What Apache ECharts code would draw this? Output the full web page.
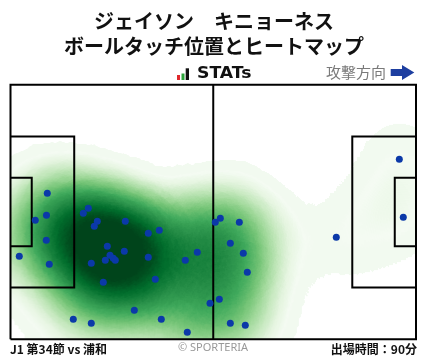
<!DOCTYPE html>
<html><head><meta charset="utf-8">
<script src="https://cdn.jsdelivr.net/npm/echarts@6/dist/echarts.min.js"></script>
<style>html,body{margin:0;padding:0;background:#fff}#c{width:428px;height:359px}</style>
</head><body><div id="c"></div>
<script>
// Touch positions in metres on a 105 x 68 pitch (x from own goal line, y from bottom touchline)
const touchX = [9.53, 6.42, 9.32, 9.27, 2.28, 10.05, 18.85, 20.15, 22.48, 21.70,
  29.73, 35.68, 38.53, 25.07, 25.76, 26.62, 27.14, 24.55, 29.47, 20.92,
  35.68, 24.03, 37.49, 45.26, 48.37, 16.26, 20.92, 32.06, 39.05, 45.78,
  51.66, 54.07, 53.03, 54.33, 59.25, 56.92, 60.28, 61.32, 84.36, 100.68,
  101.71, 56.92, 60.80];
const touchY = [39.0, 31.78, 33.12, 26.43, 22.16, 20.02, 33.65, 34.99, 31.51, 30.18,
  31.51, 28.31, 29.11, 24.83, 22.43, 21.62, 21.09, 21.09, 23.5, 20.29,
  21.89, 15.21, 16.01, 21.09, 23.23, 5.32, 4.25, 7.72, 5.32, 1.84,
  9.59, 10.66, 31.25, 32.32, 31.25, 25.63, 22.96, 17.88, 27.24, 48.09,
  32.58, 4.25, 3.71];

const titleLines = ['ジェイソン　キニョーネス', 'ボールタッチ位置とヒートマップ'];
const footerLeft = 'J1 第34節 vs 浦和';
const footerRight = '出場時間：90分';
const credit = '© SPORTERIA';
const directionLabel = '攻撃方向';

const PL = 105, PW = 68;
const pitchLines = [
  [[0,0],[PL,0],[PL,PW],[0,PW],[0,0]],
  [[PL/2,0],[PL/2,PW]],
  [[0,13.84],[16.5,13.84],[16.5,54.16],[0,54.16]],
  [[0,24.84],[5.5,24.84],[5.5,43.16],[0,43.16]],
  [[PL,13.84],[PL-16.5,13.84],[PL-16.5,54.16],[PL,54.16]],
  [[PL,24.84],[PL-5.5,24.84],[PL-5.5,43.16],[PL,43.16]]
];

echarts.registerMap('pitch', {
  type: 'FeatureCollection',
  features: [{
    type: 'Feature', properties: { name: 'pitch' },
    geometry: { type: 'Polygon', coordinates: [[[0,0],[PL,0],[PL,PW],[0,PW],[0,0]]] }
  }]
});

const points = touchX.map((x, i) => [x, touchY[i]]);
// colour ramp (matplotlib "Greens"), stretched over the density range
const greens = ['#f7fcf5','#e5f5e0','#c7e9c0','#a1d99b','#74c476','#41ab5d','#238b45','#006d2c','#00441b'];
const ramp = [];
for (let i = 0; i < 64; i++) {
  const t = i / 63;
  if (t < 0.12) ramp.push('#f2faf0');
  else ramp.push(echarts.color.lerp(Math.min(1, (t - 0.12) / 0.56), greens));
}

const chart = echarts.init(document.getElementById('c'), null, { renderer: 'canvas' });
const jp = "'Noto Sans CJK JP', sans-serif";
const boxW = 405.5, boxH = 254.4;
const vmax = 3;
chart.setOption({
  backgroundColor: '#fff',
  animation: false,
  geo: {
    map: 'pitch', roam: false, silent: true,
    left: 10.5, top: 84.8, width: boxW, height: boxH,
    aspectScale: (boxW / boxH) / (PL / PW),
    itemStyle: { areaColor: '#fff', borderWidth: 0 },
    label: { show: false },
    emphasis: { disabled: true },
    select: { disabled: true }
  },
  visualMap: {
    type: 'continuous', show: false, seriesIndex: 0,
    min: 0, max: vmax, range: [0.2, vmax],
    inRange: { color: ramp },
    outOfRange: { color: ['rgba(255,255,255,0)'] }
  },
  series: [
    {
      type: 'heatmap', coordinateSystem: 'geo', geoIndex: 0,
      data: points.map(p => [p[0], p[1], 1]),
      pointSize: 30, blurSize: 68, minOpacity: 1, maxOpacity: 1, silent: true
    },
    {
      type: 'lines', coordinateSystem: 'geo', geoIndex: 0, polyline: true, silent: true, z: 3,
      lineStyle: { color: '#000', width: 2, opacity: 1, join: 'miter' },
      data: pitchLines.map(c => ({ coords: c }))
    },
    {
      type: 'scatter', coordinateSystem: 'geo', geoIndex: 0, silent: true, z: 4,
      symbolSize: 7, itemStyle: { color: '#0b39a8', opacity: 1 },
      data: points
    }
  ],
  graphic: [
    { type: 'text', style: { x: 214, y: 21, text: titleLines[0], textAlign: 'center', textVerticalAlign: 'middle', font: 'bold 20px ' + jp, fill: '#111' } },
    { type: 'text', style: { x: 214, y: 46, text: titleLines[1], textAlign: 'center', textVerticalAlign: 'middle', font: 'bold 20px ' + jp, fill: '#111' } },
    { type: 'rect', shape: { x: 177, y: 75, width: 3, height: 5 }, style: { fill: '#e0282c' } },
    { type: 'rect', shape: { x: 181.5, y: 73.5, width: 3, height: 6.5 }, style: { fill: '#2ca53b' } },
    { type: 'rect', shape: { x: 185.7, y: 68.3, width: 3.3, height: 11.7 }, style: { fill: '#111' } },
    { type: 'text', x: 197, y: 74, scaleX: 1.15, style: { x: 0, y: 0, text: 'STATs', textAlign: 'left', textVerticalAlign: 'middle', font: "bold 15px 'DejaVu Sans', sans-serif", fill: '#111' } },
    { type: 'text', style: { x: 386, y: 72.5, text: directionLabel, textAlign: 'right', textVerticalAlign: 'middle', font: '15px ' + jp, fill: '#7a7a7a' } },
    { type: 'polygon', shape: { points: [[390.7,69],[402,69],[402,65],[414.3,72.5],[402,80],[402,76],[390.7,76]] }, style: { fill: '#1d3ea0' } },
    { type: 'text', style: { x: 10, y: 349, text: footerLeft, textAlign: 'left', textVerticalAlign: 'middle', font: 'bold 12px ' + jp, fill: '#111' } },
    { type: 'text', style: { x: 213, y: 348, text: credit, textAlign: 'center', textVerticalAlign: 'middle', font: "11px 'Noto Sans', sans-serif", fill: '#999' } },
    { type: 'text', style: { x: 417, y: 349, text: footerRight, textAlign: 'right', textVerticalAlign: 'middle', font: 'bold 12px ' + jp, fill: '#111' } }
  ]
});
</script></body></html>
